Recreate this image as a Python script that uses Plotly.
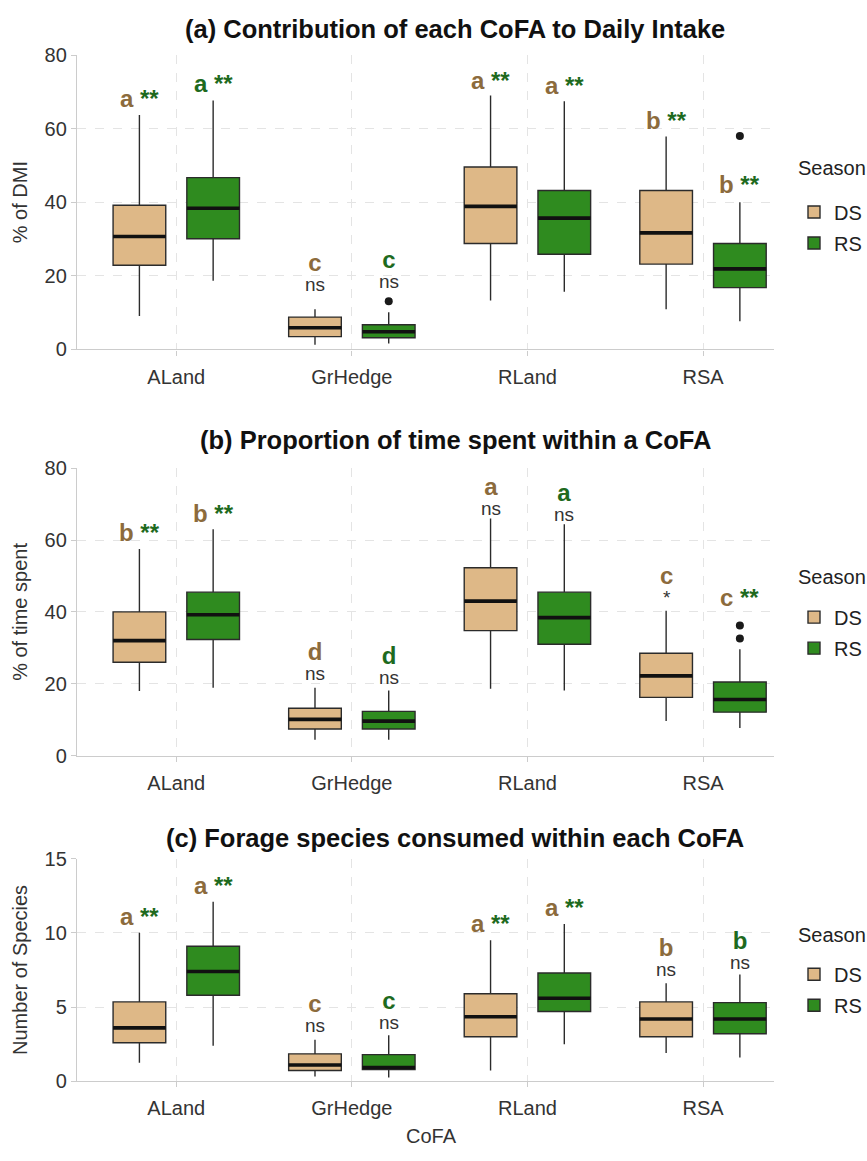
import plotly.graph_objects as go

# ---------------- data ----------------
categories = ["ALand", "GrHedge", "RLand", "RSA"]
seasons = ["DS", "RS"]

# Panel (a) % of DMI
a_DS_low = [9.1, 1.3, 13.3, 10.9]
a_DS_q1 = [22.9, 3.5, 28.8, 23.2]
a_DS_med = [30.7, 5.9, 38.9, 31.7]
a_DS_q3 = [39.2, 8.8, 49.6, 43.2]
a_DS_high = [63.7, 10.9, 69.0, 57.9]
a_RS_low = [18.7, 1.6, 15.7, 7.7]
a_RS_q1 = [30.1, 3.2, 25.9, 16.8]
a_RS_med = [38.4, 4.8, 35.7, 21.9]
a_RS_q3 = [46.7, 6.7, 43.2, 28.8]
a_RS_high = [67.7, 10.1, 67.5, 40.0]
a_RS_out_cat = ["GrHedge", "RSA"]
a_RS_out_val = [13.1, 58.0]

# Panel (b) % of time spent
b_DS_low = [18.0, 4.4, 18.6, 9.6]
b_DS_q1 = [26.0, 7.4, 34.8, 16.2]
b_DS_med = [32.0, 10.1, 43.0, 22.2]
b_DS_q3 = [40.0, 13.2, 52.3, 28.5]
b_DS_high = [57.5, 18.9, 66.0, 40.3]
b_RS_low = [18.9, 4.4, 18.1, 7.7]
b_RS_q1 = [32.3, 7.4, 31.0, 12.1]
b_RS_med = [39.2, 9.6, 38.4, 15.6]
b_RS_q3 = [45.5, 12.3, 45.5, 20.5]
b_RS_high = [63.0, 18.1, 64.4, 29.6]
b_RS_out_cat = ["RSA", "RSA"]
b_RS_out_val = [36.2, 32.6]

# Panel (c) number of species
c_DS_low = [1.25, 0.33, 0.73, 1.9]
c_DS_q1 = [2.6, 0.73, 3.0, 3.0]
c_DS_med = [3.6, 1.1, 4.35, 4.2]
c_DS_q3 = [5.35, 1.85, 5.9, 5.35]
c_DS_high = [10.0, 2.8, 9.5, 6.6]
c_RS_low = [2.4, 0.26, 2.5, 1.6]
c_RS_q1 = [5.8, 0.8, 4.7, 3.2]
c_RS_med = [7.4, 0.93, 5.6, 4.2]
c_RS_q3 = [9.1, 1.8, 7.3, 5.3]
c_RS_high = [12.1, 3.1, 10.6, 7.2]

# Significance labels: letter, letter colour key, test, test colour key, stacked?, y letter, y test
a_DS_lab = [("a", "br", "**", "gr", False, 68.3, None), ("c", "br", "ns", "k", True, 23.5, 18.4),
            ("a", "br", "**", "gr", False, 73.0, None), ("b", "br", "**", "gr", False, 62.1, None)]
a_RS_lab = [("a", "gr", "**", "gr", False, 72.3, None), ("c", "gr", "ns", "k", True, 24.3, 19.5),
            ("a", "br", "**", "gr", False, 71.7, None), ("b", "br", "**", "gr", False, 44.8, None)]
b_DS_lab = [("b", "br", "**", "gr", False, 62.0, None), ("d", "br", "ns", "k", True, 29.0, 23.6),
            ("a", "br", "ns", "k", True, 74.5, 69.9), ("c", "br", "*", "k", True, 49.9, 45.0)]
b_RS_lab = [("b", "br", "**", "gr", False, 67.4, None), ("d", "gr", "ns", "k", True, 28.0, 22.7),
            ("a", "gr", "ns", "k", True, 73.0, 68.2), ("c", "br", "**", "gr", False, 44.0, None)]
c_DS_lab = [("a", "br", "**", "gr", False, 11.1, None), ("c", "br", "ns", "k", True, 5.2, 4.0),
            ("a", "br", "**", "gr", False, 10.6, None), ("b", "br", "ns", "k", True, 9.0, 7.8)]
c_RS_lab = [("a", "br", "**", "gr", False, 13.2, None), ("c", "gr", "ns", "k", True, 5.4, 4.2),
            ("a", "br", "**", "gr", False, 11.7, None), ("b", "gr", "ns", "k", True, 9.5, 8.2)]

titles = ["(a) Contribution of each CoFA to Daily Intake",
          "(b) Proportion of time spent within a CoFA",
          "(c) Forage species consumed within each CoFA"]
ytitles = ["% of DMI", "% of time spent", "Number of Species"]
yranges = [[0, 80], [0, 80], [0, 15]]
ydticks = [20, 20, 5]
xtitle = "CoFA"
legend_title = "Season"

# ---------------- style ----------------
FONT = "Liberation Sans, Arial, sans-serif"
FILL = {"DS": "#DEB887", "RS": "#2F8B1F"}
EDGE = "#2b2b2b"
TXT = {"br": "#8C6B3C", "gr": "#1E6A1E", "k": "#333333"}
OFFSET = {"DS": -0.21, "RS": 0.21}
BOXW = 0.30
W, H = 867, 1161
XDOM = [77 / W, 775 / W]
PANEL_PX = [(45, 345), (466, 759), (864, 1091)]   # (top, bottom) pixel rows of each panel
TITLE_Y = [18, 437, 843]
SEASON_Y = [160, 577, 942]
LEGEND_TOP = [185, 598, 962]

panels = [
    {"DS": (a_DS_low, a_DS_q1, a_DS_med, a_DS_q3, a_DS_high),
     "RS": (a_RS_low, a_RS_q1, a_RS_med, a_RS_q3, a_RS_high),
     "out": {"RS": (a_RS_out_cat, a_RS_out_val)},
     "lab": {"DS": a_DS_lab, "RS": a_RS_lab}},
    {"DS": (b_DS_low, b_DS_q1, b_DS_med, b_DS_q3, b_DS_high),
     "RS": (b_RS_low, b_RS_q1, b_RS_med, b_RS_q3, b_RS_high),
     "out": {"RS": (b_RS_out_cat, b_RS_out_val)},
     "lab": {"DS": b_DS_lab, "RS": b_RS_lab}},
    {"DS": (c_DS_low, c_DS_q1, c_DS_med, c_DS_q3, c_DS_high),
     "RS": (c_RS_low, c_RS_q1, c_RS_med, c_RS_q3, c_RS_high),
     "out": {},
     "lab": {"DS": c_DS_lab, "RS": c_RS_lab}},
]

fig = go.Figure()
annotations = []
cat_idx = {c: i for i, c in enumerate(categories)}
LETTER_PX, SIG_PX, STACK_GAP = 24, 19, 20

for p, panel in enumerate(panels):
    sfx = "" if p == 0 else str(p + 1)
    xref, yref = "x" + sfx, "y" + sfx
    legend_name = "legend" + sfx
    top, bot = PANEL_PX[p]
    for s in seasons:
        low, q1, med, q3, high = panel[s]
        pos = [cat_idx[c] + OFFSET[s] for c in categories]
        fig.add_trace(go.Box(
            x=pos, q1=q1, median=med, q3=q3, lowerfence=low, upperfence=high,
            name=s, width=BOXW, fillcolor=FILL[s], line=dict(color=EDGE, width=1.4),
            whiskerwidth=0, boxpoints=False, xaxis=xref, yaxis=yref,
            legend=legend_name, legendgroup=s + sfx, showlegend=True, hoverinfo="skip"))
        # thick median line (ggplot style)
        fig.add_trace(go.Box(
            x=pos, q1=med, median=med, q3=med, lowerfence=med, upperfence=med,
            width=BOXW, fillcolor="rgba(0,0,0,0)", line=dict(color="#111111", width=3.6),
            whiskerwidth=0, boxpoints=False, xaxis=xref, yaxis=yref,
            showlegend=False, hoverinfo="skip"))
        if s in panel["out"]:
            ocat, oval = panel["out"][s]
            fig.add_trace(go.Scatter(
                x=[cat_idx[c] + OFFSET[s] for c in ocat], y=oval, mode="markers",
                marker=dict(color="#1a1a1a", size=8), xaxis=xref, yaxis=yref,
                showlegend=False, hoverinfo="skip"))
        # labels
        for c, lab in zip(categories, panel["lab"][s]):
            letter, lc, sig, sc, stacked, yl, ys = lab
            xpos = cat_idx[c] + OFFSET[s]
            if stacked:
                text = (f"<span style='font-size:{LETTER_PX}px;color:{TXT[lc]}'><b>{letter}</b></span><br>"
                        f"<span style='font-size:{SIG_PX}px;color:{TXT[sc]}'>{sig}</span>")
                annotations.append(dict(x=xpos, y=(yl + ys) / 2, xref=xref, yref=yref, showarrow=False,
                                        text=text, font=dict(size=STACK_GAP / 1.3, color=TXT[lc], family=FONT),
                                        xanchor="center", yanchor="middle", align="center"))
            else:
                annotations.append(dict(
                    x=xpos, y=yl, xref=xref, yref=yref, showarrow=False,
                    text=f"<b><span style='color:{TXT[lc]}'>{letter}</span> <span style='color:{TXT[sc]}'>{sig}</span></b>",
                    font=dict(size=LETTER_PX, color=TXT[lc], family=FONT), xanchor="center", yanchor="middle"))

    ydom = [1 - bot / H, 1 - top / H]
    axis_common = dict(showline=True, linecolor="#cccccc", linewidth=1.2, ticks="outside",
                       ticklen=5, tickcolor="#cccccc", showgrid=True, gridcolor="#e4e4e4",
                       griddash="dash", gridwidth=1, zeroline=False,
                       tickfont=dict(size=20, color="#333333", family=FONT))
    fig.update_layout(**{
        "xaxis" + sfx: dict(domain=XDOM, range=[-0.566, 3.405], tickmode="array",
                            tickvals=list(range(len(categories))), ticktext=categories,
                            anchor=yref, ticklabelstandoff=4, **axis_common),
        "yaxis" + sfx: dict(domain=ydom, range=yranges[p], dtick=ydticks[p], tick0=0,
                            anchor=xref, **axis_common),
        legend_name: dict(x=795 / W, y=1 - LEGEND_TOP[p] / H, xanchor="left", yanchor="top",
                          font=dict(size=20, color="#222222", family=FONT),
                          tracegroupgap=2, bgcolor="rgba(0,0,0,0)"),
    })
    annotations.append(dict(x=456 / W, y=1 - TITLE_Y[p] / H, xref="paper", yref="paper",
                            showarrow=False, text=f"<b>{titles[p]}</b>",
                            font=dict(size=25.5, color="#111111", family=FONT),
                            xanchor="center", yanchor="middle"))
    annotations.append(dict(x=20 / W, y=1 - (top + bot) / 2 / H, xref="paper", yref="paper",
                            showarrow=False, text=ytitles[p], textangle=-90,
                            font=dict(size=20, color="#333333", family=FONT),
                            xanchor="center", yanchor="middle"))
    annotations.append(dict(x=797 / W, y=1 - SEASON_Y[p] / H, xref="paper", yref="paper",
                            showarrow=False, text=legend_title,
                            font=dict(size=20, color="#222222", family=FONT),
                            xanchor="left", yanchor="middle"))

annotations.append(dict(x=432 / W, y=1 - 1147 / H, xref="paper", yref="paper", showarrow=False,
                        text=xtitle, font=dict(size=20, color="#333333", family=FONT),
                        xanchor="center", yanchor="middle"))

fig.update_layout(width=W, height=H, margin=dict(l=0, r=0, t=0, b=0),
                  paper_bgcolor="white", plot_bgcolor="white",
                  font=dict(family=FONT), annotations=annotations, boxmode="overlay")

fig.write_html("out.html")
